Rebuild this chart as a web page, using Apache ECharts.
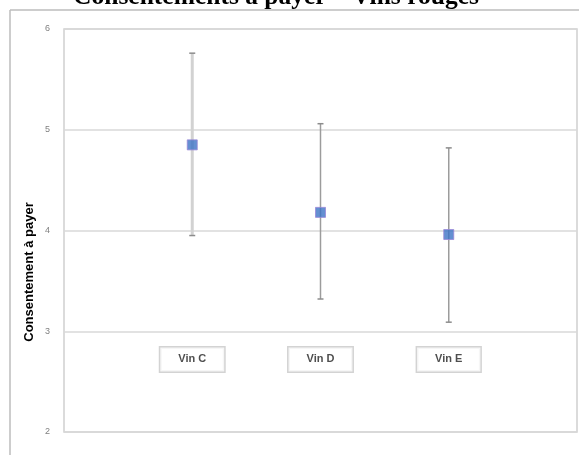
<!DOCTYPE html>
<html>
<head>
<meta charset="utf-8">
<script src="https://cdn.jsdelivr.net/npm/echarts@6/dist/echarts.min.js"></script>
<style>
html,body{margin:0;padding:0;background:#fff;}
#chart{width:579px;height:455px;}
</style>
</head>
<body>
<div id="chart"></div>
<script>
var titleText = 'Consentements à payer – Vins rouges';
var yAxisTitle = 'Consentement à payer';
var wines = ['Vin C', 'Vin D', 'Vin E'];
var xPos = [1, 2, 3];
var means = [4.85, 4.18, 3.96];
var upper = [5.76, 5.06, 4.82];
var lower = [3.95, 3.32, 3.09];
var labelY = 2.72;
var yTicks = [2, 3, 4, 5, 6];

var barStyles = [
  {stroke: '#d2d2d2', lineWidth: 3},
  {stroke: '#9c9c9c', lineWidth: 1.5},
  {stroke: '#9c9c9c', lineWidth: 1.5}
];

var chart = echarts.init(document.getElementById('chart'), null, {renderer: 'canvas'});

var errData = xPos.map(function (x, i) { return [x, lower[i], upper[i]]; });
var meanData = xPos.map(function (x, i) { return [x, means[i]]; });
var labelData = xPos.map(function (x, i) { return {value: [x, labelY], name: wines[i]}; });

var option = {
  animation: false,
  backgroundColor: '#fff',
  grid: {
    left: 64, right: 2, top: 29, bottom: 23,
    show: true, borderColor: '#d0d0d0', borderWidth: 1.5, backgroundColor: '#fff'
  },
  xAxis: {
    type: 'value', min: 0, max: 4, interval: 1,
    show: false
  },
  yAxis: {
    type: 'value', min: yTicks[0], max: yTicks[yTicks.length - 1], interval: 1,
    axisLine: {show: false},
    axisTick: {show: false},
    axisLabel: {color: '#808080', fontSize: 9, margin: 14, fontFamily: 'Liberation Sans'},
    splitLine: {lineStyle: {color: '#d9d9d9', width: 1.5}}
  },
  graphic: [
    {type: 'line', shape: {x1: 10, y1: 10, x2: 10, y2: 455}, style: {stroke: '#bdbdbd', lineWidth: 1.5}, z: 100},
    {type: 'line', shape: {x1: 10, y1: 10, x2: 579, y2: 10}, style: {stroke: '#bdbdbd', lineWidth: 1.5}, z: 100},
    {type: 'text', x: 276, y: 10, z: 100,
      style: {text: titleText, fill: '#000', font: 'bold 25.5px "Liberation Serif"', align: 'center', verticalAlign: 'bottom'}},
    {type: 'text', x: 29, y: 272, rotation: Math.PI / 2, z: 100,
      style: {text: yAxisTitle, fill: '#000', font: 'bold 13px "Liberation Sans"', align: 'center', verticalAlign: 'middle'}}
  ],
  series: [
    {
      type: 'custom',
      data: errData,
      z: 2,
      renderItem: function (params, api) {
        var x = api.value(0);
        var lo = api.coord([x, api.value(1)]);
        var hi = api.coord([x, api.value(2)]);
        var st = barStyles[params.dataIndex];
        var cap = 3;
        return {
          type: 'group',
          children: [
            {type: 'line', shape: {x1: lo[0], y1: lo[1], x2: hi[0], y2: hi[1]}, style: {stroke: st.stroke, lineWidth: st.lineWidth}},
            {type: 'line', shape: {x1: hi[0] - cap, y1: hi[1], x2: hi[0] + cap, y2: hi[1]}, style: {stroke: '#8c8c8c', lineWidth: 1.5}},
            {type: 'line', shape: {x1: lo[0] - cap, y1: lo[1], x2: lo[0] + cap, y2: lo[1]}, style: {stroke: '#8c8c8c', lineWidth: 1.5}}
          ]
        };
      }
    },
    {
      type: 'scatter',
      data: meanData,
      symbol: 'rect',
      symbolSize: 10,
      z: 5,
      itemStyle: {color: '#3d73c5', borderColor: '#9a88d8', borderWidth: 1}
    },
    {
      type: 'scatter',
      data: labelData,
      symbolSize: 0,
      z: 6,
      label: {
        show: true,
        position: 'inside',
        formatter: function (p) { return p.name; },
        color: '#222',
        fontSize: 11,
        fontWeight: 'bold',
        fontFamily: 'Liberation Sans',
        backgroundColor: '#fff',
        borderColor: '#c8c8c8',
        borderWidth: 1.5,
        padding: [7, 18, 6, 18]
      }
    }
  ]
};
chart.setOption(option);
</script>
</body>
</html>
